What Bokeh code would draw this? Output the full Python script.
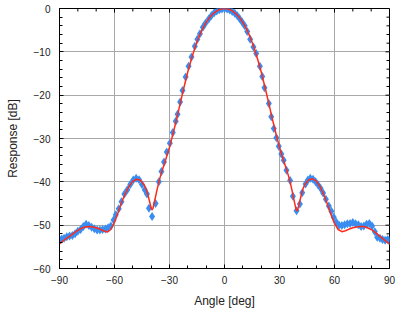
import math
from bokeh.plotting import figure
from bokeh.models import Range1d, SingleIntervalTicker
from bokeh.embed import file_html
from bokeh.resources import INLINE

# measured response (markers)
meas_angle = [-90, -88.8, -87.5, -86, -84.5, -83, -81.5, -80, -78.5, -77, -75.5, -74,
              -72.5, -71, -69.5, -68, -66.5, -65, -63.5, -62, -60.5, -59.3, -57.7, -56.2,
              -54.6, -53, -51.4, -49.8, -48.2, -46.6, -45, -43.5, -42.3, -41.2, -39.5,
              -37.6, -35.8, -34.4, -33, -31.5, -29.8, -28.2, -26.6, -25.6, -24.2, -22.9,
              -21.2, -19.6, -18, -16.2, -14.8, -13.4, -11.8, -10.4, -8.6, -7.1, -5.6, -4.2,
              -2.8, -1.4, 0, 1.4, 2.8, 4.2, 5.6, 7, 8.2, 9.6, 11, 12.4, 14, 15.8, 17.3,
              19.3, 20.6, 21.8, 24.2, 25.5, 26.9, 28.3, 29.6, 31, 32.3, 33.8, 35.8, 37.3,
              39.3, 41.1, 42.4, 44.2, 45.5, 46.8, 48.3, 49.7, 51, 52.4, 53.8, 55.3, 56.9,
              58.3, 59.6, 61, 62.5, 64, 65.5, 67, 68.5, 70, 71.5, 73, 74.5, 76, 77.5, 79,
              80.5, 82, 83.3, 84.8, 86.2, 87.6, 89, 90]
meas_db = [-53.4, -53.2, -53.0, -52.7, -52.5, -52.4, -52.0, -51.4, -51.0, -50.3, -49.8, -50.1,
           -50.5, -50.8, -51.1, -51.1, -51.0, -50.9, -50.6, -50.2, -48.8, -47.6, -46.2, -44.6,
           -42.8, -41.8, -40.6, -39.6, -39.2, -39.5, -40.6, -41.8, -42.8, -46.1, -48.0,
           -45.0, -40.0, -37.6, -35.4, -33.1, -31.1, -28.6, -26.0, -24.4, -21.6, -18.9,
           -15.8, -13.3, -11.2, -8.7, -7.1, -5.8, -4.3, -3.4, -2.4, -1.6, -1.0, -0.6,
           -0.3, -0.1, 0.0, -0.1, -0.35, -0.7, -1.1, -1.7, -2.3, -3.1, -4.0, -5.3, -7.1, -8.9, -10.4,
           -13.3, -15.7, -18.3, -21.9, -25.0, -27.7, -29.8, -31.8, -33.6, -35.0, -37.3, -39.7, -43.3,
           -46.7, -45.1, -42.5, -40.5, -39.6, -39.2, -39.4, -40.0, -40.7, -41.5, -42.6, -44.0, -45.6,
           -46.8, -48.2, -49.3, -50.0, -50.1, -49.9, -49.7, -49.6, -49.4, -49.7, -49.9, -50.3, -50.2, -49.8, -49.6,
           -50.2, -51.5, -52.8, -53.0, -53.3, -53.5, -53.3, -53.6]

# fitted model (line)
fit_angle = [-90, -88, -86, -84, -82, -80, -78, -76, -74, -72, -70, -68, -66, -64, -62, -60,
             -58, -56, -54, -52, -50, -48, -46, -44, -43, -42, -41, -40, -39.5, -39, -38, -37,
             -36, -35, -34, -32, -30, -28, -26, -24, -22, -20, -18, -16, -14, -12, -10, -8,
             -6, -4, -2, 0, 2, 4, 6, 8, 10, 12, 14, 16, 18, 20, 22, 24, 26, 28, 30, 32, 34,
             35, 36, 37, 38, 39, 39.5, 40, 41, 42, 43, 44, 46, 48, 50, 52, 54, 56, 58, 60, 62,
             64, 66, 68, 70, 72, 74, 76, 78, 80, 82, 84, 86, 88, 90]
fit_db = [-54.3, -53.6, -53.0, -52.4, -51.8, -51.2, -50.7, -50.4, -50.3, -50.4, -50.6, -50.9,
          -51.3, -51.6, -51.0, -49.3, -47.0, -44.6, -42.6, -41.0, -39.9, -39.4, -39.6, -40.6,
          -41.4, -42.6, -44.3, -46.0, -46.5, -46.1, -44.2, -42.2, -40.4, -38.8, -37.4, -34.8,
          -32.0, -28.8, -25.3, -21.6, -18.0, -14.6, -11.6, -8.9, -6.6, -4.7, -3.2, -2.0, -1.1,
          -0.5, -0.12, 0.0, -0.12, -0.5, -1.1, -2.0, -3.2, -4.7, -6.6, -8.9, -11.6, -14.6, -18.0,
          -21.6, -25.3, -28.8, -32.0, -34.8, -37.4, -38.8, -40.4, -42.3, -44.4, -46.3, -46.7,
          -46.3, -44.6, -42.8, -41.4, -40.5, -39.5, -39.3, -39.8, -41.0, -42.8, -45.0, -47.5,
          -49.6, -51.0, -51.5, -51.3, -50.9, -50.6, -50.4, -50.3, -50.3, -50.6, -51.0, -51.6,
          -52.3, -53.0, -53.7, -54.4]

# axis ticks
x_major = [-90, -60, -30, 0, 30, 60, 90]
x_minor = [-80, -70, -50, -40, -20, -10, 10, 20, 40, 50, 70, 80]
y_major = [-60, -50, -40, -30, -20, -10, 0]
y_minor = [-58, -56, -54, -52, -48, -46, -44, -42, -38, -36, -34, -32, -28, -26, -24, -22,
           -18, -16, -14, -12, -8, -6, -4, -2]

FONT = "Liberation Sans"
XMIN, XMAX, YMIN, YMAX = -90, 90, -60, 0

p = figure(width=399, height=310, x_range=Range1d(XMIN, XMAX), y_range=Range1d(YMIN, YMAX),
           output_backend="svg", toolbar_location=None,
           min_border_left=59, min_border_right=10, min_border_top=8, min_border_bottom=41)
p.outline_line_color = "black"
p.outline_line_width = 1

xt = SingleIntervalTicker(interval=30, num_minor_ticks=3)
yt = SingleIntervalTicker(interval=10, num_minor_ticks=5)
p.xaxis.ticker = xt
p.yaxis.ticker = yt
p.xgrid.ticker = xt
p.ygrid.ticker = yt
for g in (p.xgrid[0], p.ygrid[0]):
    g.grid_line_color = "#a8a8a8"
    g.grid_line_width = 1

for ax in (p.xaxis[0], p.yaxis[0]):
    ax.major_tick_in = 4
    ax.major_tick_out = 0
    ax.minor_tick_in = 3
    ax.minor_tick_out = 0
    ax.axis_line_color = "black"
    ax.major_tick_line_color = "black"
    ax.minor_tick_line_color = "black"
    ax.major_label_text_font = FONT
    ax.major_label_text_font_size = "10px"
    ax.major_label_text_color = "#222222"
    ax.axis_label_text_font = FONT
    ax.axis_label_text_font_size = "12px"
    ax.axis_label_text_font_style = "normal"
    ax.axis_label_text_color = "#222222"

xa = p.xaxis[0]
ya = p.yaxis[0]
xa.axis_label = "Angle [deg]"
ya.axis_label = "Response [dB]"
xa.major_label_standoff = 7
xa.axis_label_standoff = 7
ya.major_label_standoff = 9
ya.axis_label_standoff = 11

# inward ticks on the top and right edges of the frame
p.ray(x=x_major, y=[YMAX] * len(x_major), length=4, length_units="screen",
      angle=-math.pi / 2, line_color="black", line_width=1)
p.ray(x=x_minor, y=[YMAX] * len(x_minor), length=3, length_units="screen",
      angle=-math.pi / 2, line_color="black", line_width=1)
p.ray(x=[XMAX] * len(y_major), y=y_major, length=4, length_units="screen",
      angle=math.pi, line_color="black", line_width=1)
p.ray(x=[XMAX] * len(y_minor), y=y_minor, length=3, length_units="screen",
      angle=math.pi, line_color="black", line_width=1)

p.scatter(meas_angle, meas_db, marker="diamond", size=9, fill_color="#3a8df0",
          line_color="#3a8df0", line_width=0)
p.line(fit_angle, fit_db, line_color="#ff2a1a", line_width=1.5)

open("out.html", "w").write(file_html(p, INLINE))
